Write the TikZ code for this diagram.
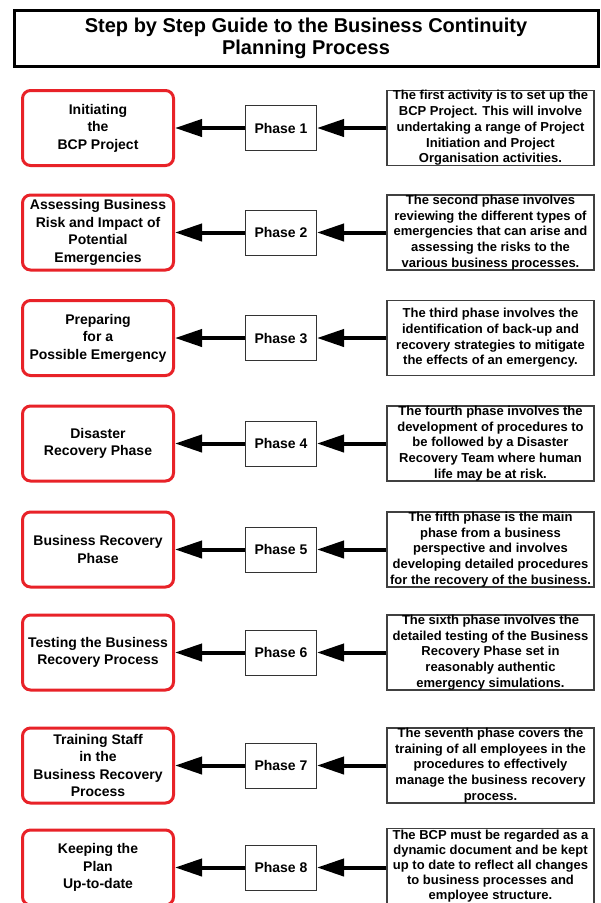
\documentclass[tikz,border=0pt]{standalone}
\usepackage{fontspec}
\setmainfont{Liberation Sans}
\usetikzlibrary{arrows.meta}
\definecolor{bcpred}{RGB}{232,34,40}
\tikzset{
  titlebox/.style={draw=black, line width=3pt, minimum width=584pt, minimum height=56pt, inner sep=0pt, align=center, font=\fontsize{20}{22}\selectfont\bfseries},
  redbox/.style={draw=bcpred, line width=3pt, rounded corners=8pt, minimum width=151pt, minimum height=75pt, inner sep=0pt, align=center, font=\fontsize{14}{17.5}\selectfont\bfseries},
  phasebox/.style={draw=black!80, line width=1pt, minimum width=71pt, minimum height=45pt, inner sep=0pt, font=\fontsize{14}{17}\selectfont\bfseries},
  descbox/.style={draw=black!75, line width=1.3pt, minimum width=207pt, minimum height=75pt, inner sep=0pt, align=center, font=\fontsize{13}{15.7}\selectfont\bfseries},
  lastdesc/.style={font=\fontsize{13}{15}\selectfont\bfseries, yshift=1.5pt},
  flow/.style={line width=4pt, -{Triangle[length=27pt,width=17pt]}},
}
\begin{document}
\begin{tikzpicture}[x=1pt,y=-1pt]
\useasboundingbox[fill=white] (0,0) rectangle (601,903);
\node[titlebox] (title) at (306,38.5) {Step by Step Guide to the Business Continuity\\Planning Process};

\newcommand{\bcprow}[5]{%
  \node[redbox] (r#1) at (98,#2) {#3};
  \node[phasebox] (p#1) at (281,#2) {Phase #1};
  \node[descbox,#5] (d#1) at (490.5,#2) {#4};
  \draw[flow] (d#1.west |- p#1.east) -- (p#1);
  \draw[flow] (p#1) -- (r#1);
}

\bcprow{1}{128}{Initiating\\the\\BCP Project}{The first activity is to set up the\\BCP Project. This will involve\\undertaking a range of Project\\Initiation and Project\\Organisation activities.}{}
\bcprow{2}{232.5}{Assessing Business\\Risk and Impact of\\Potential\\Emergencies}{The second phase involves\\reviewing the different types of\\emergencies that can arise and\\assessing the risks to the\\various business processes.}{}
\bcprow{3}{338}{Preparing\\for a\\Possible Emergency}{The third phase involves the\\identification of back-up and\\recovery strategies to mitigate\\the effects of an emergency.}{}
\bcprow{4}{443.5}{Disaster\\Recovery Phase}{The fourth phase involves the\\development of procedures to\\be followed by a Disaster\\Recovery Team where human\\life may be at risk.}{}
\bcprow{5}{549.5}{Business Recovery\\Phase}{The fifth phase is the main\\phase from a business\\perspective and involves\\developing detailed procedures\\for the recovery of the business.}{}
\bcprow{6}{652.5}{Testing the Business\\Recovery Process}{The sixth phase involves the\\detailed testing of the Business\\Recovery Phase set in\\reasonably authentic\\emergency simulations.}{}
\bcprow{7}{765.5}{Training Staff\\in the\\Business Recovery\\Process}{The seventh phase covers the\\training of all employees in the\\procedures to effectively\\manage the business recovery\\process.}{}
\bcprow{8}{867.5}{Keeping the\\Plan\\Up-to-date}{The BCP must be regarded as a\\dynamic document and be kept\\up to date to reflect all changes\\to business processes and\\employee structure.}{lastdesc}
\end{tikzpicture}
\end{document}
